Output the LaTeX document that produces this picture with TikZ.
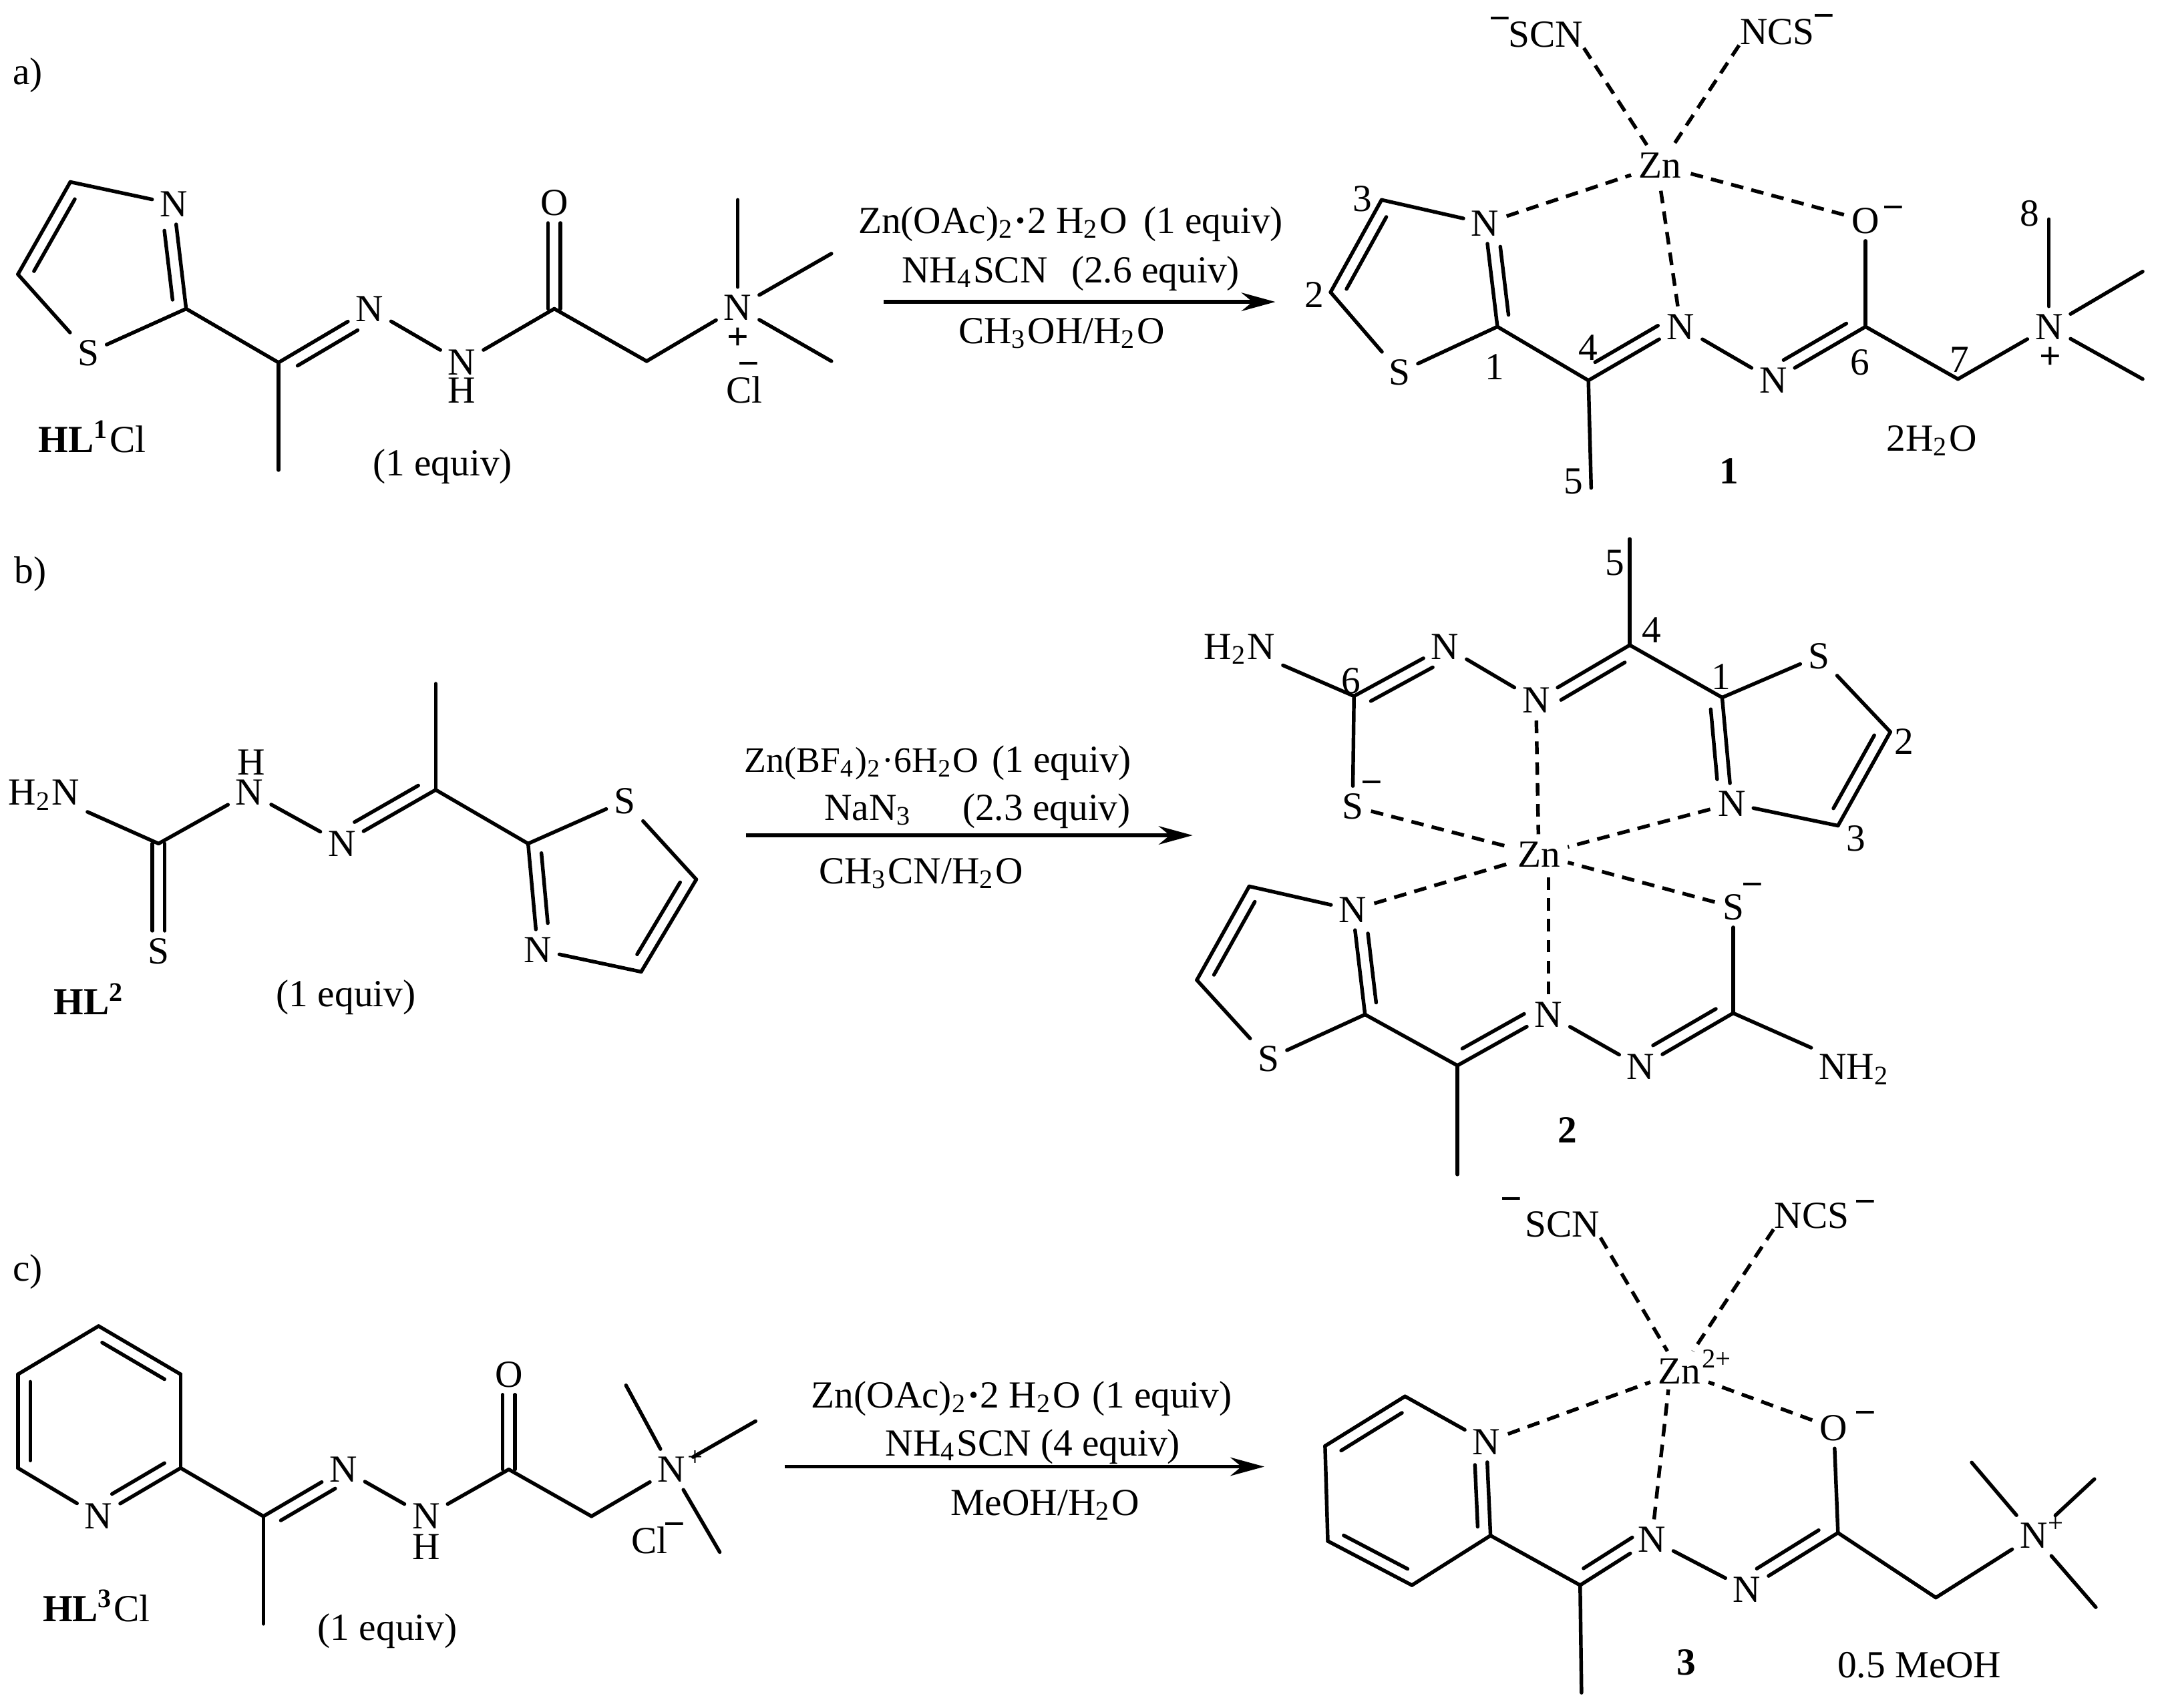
\documentclass[tikz,border=0pt]{standalone}
\usepackage{fontspec}
\setmainfont{Liberation Serif}
\usetikzlibrary{calc,arrows.meta}

% inner line of a double bond: from, to, side, start, stop
\newcommand{\inbond}[5]{\draw[bond] ($(#1)!#4!(#2)!0.09cm!#3:(#2)$) -- ($(#1)!#5!(#2)!0.09cm!#3:(#2)$);}
% upright double bond, two lines side by side
\newcommand{\updbl}[2]{
  \draw[bond,transform canvas={xshift=-0.045cm}] (#1) -- (#2);
  \draw[bond,transform canvas={xshift=0.045cm}] (#1) -- (#2);
}

\begin{document}
\begin{tikzpicture}[
  x=0.01cm, y=-0.01cm,
  txt/.style={font=\fontsize{7.9}{9}\selectfont, inner sep=0pt, text height=5.2pt, text depth=0pt},
  atom/.style={txt, inner sep=1.4pt},
  chg/.style={font=\fontsize{7.9}{9}\selectfont\bfseries, inner sep=0pt, text height=4.4pt, text depth=0pt},
  sup/.style={font=\fontsize{5.6}{6}\selectfont, inner sep=0pt},
  bond/.style={line width=0.75pt, line cap=round},
  coord/.style={bond, dash pattern=on 2.6pt off 1.7pt, line cap=butt},
  arr/.style={-{Stealth[length=7pt,width=3.8pt]}, line width=0.8pt}
]
  \useasboundingbox (0,0) rectangle (1568,1239);

  % ---- a) ligand
  \node[txt] (atag) at (20,52) {a)};
  \node[atom] (aN1) at (126,148) {N};
  \node[atom] (aS) at (64,256) {S};
  \node[atom] (aN2) at (268,224) {N};
  \node[atom] (aN3) at (335,263) {N};
  \node[txt] (aH) at (335,283) {H};
  \node[atom] (aO) at (402,147) {O};
  \node[atom] (aN4) at (535,223) {N};
  \node[chg] (aplus) at (535,246) {+};
  \node[chg] (aminus) at (543,265) {−};
  \node[txt] (aCl) at (540,283) {Cl};
  \node[txt] (aname) at (67,319) {\textbf{HL\textsuperscript{1}}Cl};
  \node[txt] (aeq) at (321,336) {(1 equiv)};
  \coordinate (aC3) at (51,132);
  \coordinate (aC2) at (13,199);
  \coordinate (aC1) at (135,224);
  \coordinate (aC4) at (202,263);
  \coordinate (aC5) at (202,341);
  \coordinate (aC6) at (402,224);
  \coordinate (aC7) at (469,262);
  \coordinate (aC8) at (535,145);
  \coordinate (aC9) at (603,184);
  \coordinate (aC10) at (603,262);
  \foreach \p/\q in {aC3/aN1, aC3/aC2, aC2/aS, aS/aC1, aC1/aN1, aC1/aC4, aC4/aN2, aC4/aC5,
    aN2/aN3, aN3/aC6, aC6/aC7, aC7/aN4, aN4/aC8, aN4/aC9, aN4/aC10}
    \draw[bond] (\p) -- (\q);
  \inbond{aC3}{aC2}{90}{0.12}{0.9}
  \inbond{aC1}{aN1}{90}{0.1}{0.76}
  \inbond{aC4}{aN2}{-90}{0.14}{0.8}
  \updbl{aC6}{aO}

  % ---- a) reagents
  \node[txt] (ar1) at (720,160) {Zn(OAc)\textsubscript{2}\textbf{·}2 H\textsubscript{2}O};
  \node[txt] (ar1b) at (880,160) {(1 equiv)};
  \node[txt] (ar2) at (707,196) {NH\textsubscript{4}SCN};
  \node[txt] (ar2b) at (838,196) {(2.6 equiv)};
  \node[txt] (ar3) at (770,240) {CH\textsubscript{3}OH/H\textsubscript{2}O};
  \coordinate (aL) at (641,219);
  \coordinate (aR) at (925,219);
  \draw[arr] (aL) -- (aR);

  % ---- complex 1
  \node[txt] (Ascn) at (1121,25) {SCN};
  \node[chg] (Ascnm) at (1088,15) {−};
  \node[txt] (Ancs) at (1289,23) {NCS};
  \node[chg] (Ancsm) at (1323,13) {−};
  \node[atom] (AZn) at (1204,120) {Zn};
  \node[atom] (AN1) at (1077,162) {N};
  \node[atom] (AS) at (1015,270) {S};
  \node[atom] (AN2) at (1219,237) {N};
  \node[atom] (AN3) at (1286,276) {N};
  \node[atom] (AO) at (1353,160) {O};
  \node[chg] (AOm) at (1373,152) {−};
  \node[atom] (AN4) at (1486,237) {N};
  \node[chg] (Aplus) at (1487,260) {+};
  \node[txt] (Awat) at (1401,318) {2H\textsubscript{2}O};
  \node[txt] (Aname) at (1254,342) {\textbf{1}};
  \node[txt] (Ana) at (1084,266) {1};
  \node[txt] (Anb) at (953,214) {2};
  \node[txt] (Anc) at (988,144) {3};
  \node[txt] (And) at (1152,252) {4};
  \node[txt] (Ane) at (1141,349) {5};
  \node[txt] (Anf) at (1349,263) {6};
  \node[txt] (Ang) at (1421,261) {7};
  \node[txt] (Anh) at (1472,155) {8};
  \coordinate (AC3) at (1002,145);
  \coordinate (AC2) at (965,212);
  \coordinate (AC1) at (1086,237);
  \coordinate (AC4) at (1152,276);
  \coordinate (AC5) at (1154,354);
  \coordinate (AC6) at (1353,237);
  \coordinate (AC7) at (1420,275);
  \coordinate (AC8) at (1486,159);
  \coordinate (AC9) at (1554,197);
  \coordinate (AC10) at (1554,275);
  \foreach \p/\q in {AC3/AN1, AC3/AC2, AC2/AS, AS/AC1, AC1/AN1, AC1/AC4, AC4/AN2, AC4/AC5,
    AN2/AN3, AN3/AC6, AC6/AO, AC6/AC7, AC7/AN4, AN4/AC8, AN4/AC9, AN4/AC10}
    \draw[bond] (\p) -- (\q);
  \inbond{AC3}{AC2}{90}{0.12}{0.9}
  \inbond{AC1}{AN1}{-90}{0.1}{0.76}
  \inbond{AC4}{AN2}{90}{0.14}{0.82}
  \inbond{AC6}{AN3}{-90}{0.14}{0.82}
  \foreach \p in {Ascn.south east, Ancs.south west, AN1, AO}
    \draw[coord] (\p) -- (AZn);
  \draw[coord] (AN2) -- (AZn.south);

  % ---- b) ligand
  \node[txt] (btag) at (22,414) {b)};
  \node[atom] (bNH) at (32,575) {H\textsubscript{2}N};
  \node[atom] (bN2) at (181,575) {N};
  \node[txt] (bH) at (182,553) {H};
  \node[atom] (bN3) at (248,612) {N};
  \node[atom] (bS1) at (115,690) {S};
  \node[atom] (bS2) at (453,581) {S};
  \node[atom] (bN1) at (390,689) {N};
  \node[txt] (bname) at (65,727) {\textbf{HL\textsuperscript{2}}};
  \node[txt] (beq) at (251,721) {(1 equiv)};
  \coordinate (bC6) at (115,612);
  \coordinate (bC4) at (316,573);
  \coordinate (bC5) at (316,496);
  \coordinate (bC1) at (383,612);
  \coordinate (bC2) at (505,638);
  \coordinate (bC3) at (465,705);
  \foreach \p/\q in {bNH/bC6, bC6/bN2, bN2/bN3, bN3/bC4, bC4/bC5, bC4/bC1, bC1/bS2, bS2/bC2,
    bC2/bC3, bC3/bN1, bN1/bC1}
    \draw[bond] (\p) -- (\q);
  \updbl{bC6}{bS1}
  \inbond{bC4}{bN3}{-90}{0.12}{0.8}
  \inbond{bC1}{bN1}{90}{0.1}{0.76}
  \inbond{bC2}{bC3}{-90}{0.1}{0.88}

  % ---- b) reagents
  \node[txt, font=\fontsize{7.4}{9}\selectfont] (br1) at (625,551) {Zn(BF\textsubscript{4})\textsubscript{2}·6H\textsubscript{2}O};
  \node[txt] (br1b) at (770,551) {(1 equiv)};
  \node[txt] (br2) at (630,586) {NaN\textsubscript{3}};
  \node[txt] (br3) at (759,586) {(2.3 equiv)};
  \node[txt] (br4) at (668,632) {CH\textsubscript{3}CN/H\textsubscript{2}O};
  \coordinate (bL) at (541,606);
  \coordinate (bR) at (865,606);
  \draw[arr] (bL) -- (bR);

  % ---- complex 2
  \node[atom] (BNH1) at (899,469) {H\textsubscript{2}N};
  \node[atom] (BN2) at (1048,469) {N};
  \node[atom] (BN3) at (1114,508) {N};
  \node[atom] (BS1) at (981,585) {S};
  \node[chg] (BS1m) at (995,569) {−};
  \node[atom] (BS2) at (1319,476) {S};
  \node[atom] (BN1) at (1256,583) {N};
  \node[atom] (BZn) at (1116,620) {Zn};
  \node[atom] (BN4) at (981,660) {N};
  \node[atom] (BS3) at (920,768) {S};
  \node[atom] (BN5) at (1123,736) {N};
  \node[atom] (BN6) at (1190,774) {N};
  \node[atom] (BNH2) at (1345,774) {NH\textsubscript{2}};
  \node[atom] (BS4) at (1257,658) {S};
  \node[chg] (BS4m) at (1271,643) {−};
  \node[txt] (Bname) at (1137,820) {\textbf{2}};
  \node[txt] (Bna) at (1248,491) {1};
  \node[txt] (Bnb) at (1381,538) {2};
  \node[txt] (Bnc) at (1346,608) {3};
  \node[txt] (Bnd) at (1198,457) {4};
  \node[txt] (Bne) at (1171,408) {5};
  \node[txt] (Bnf) at (980,494) {6};
  \coordinate (BC6) at (982,505);
  \coordinate (BC4) at (1182,468);
  \coordinate (BC5) at (1182,391);
  \coordinate (BC1) at (1249,506);
  \coordinate (BC2) at (1371,531);
  \coordinate (BC3) at (1333,599);
  \coordinate (BC7) at (906,643);
  \coordinate (BC8) at (868,711);
  \coordinate (BC9) at (990,736);
  \coordinate (BC10) at (1057,773);
  \coordinate (BC11) at (1057,852);
  \coordinate (BC12) at (1257,735);
  \foreach \p/\q in {BNH1/BC6, BC6/BN2, BN2/BN3, BN3/BC4, BC4/BC5, BC4/BC1, BC1/BS2, BS2/BC2,
    BC2/BC3, BC3/BN1, BN1/BC1, BC6/BS1, BC7/BN4, BC7/BC8, BC8/BS3, BS3/BC9, BC9/BN4, BC9/BC10,
    BC10/BC11, BC10/BN5, BN5/BN6, BN6/BC12, BC12/BS4, BC12/BNH2}
    \draw[bond] (\p) -- (\q);
  \inbond{BC6}{BN2}{-90}{0.12}{0.8}
  \inbond{BC4}{BN3}{90}{0.12}{0.8}
  \inbond{BC1}{BN1}{-90}{0.1}{0.76}
  \inbond{BC2}{BC3}{-90}{0.1}{0.88}
  \inbond{BC7}{BC8}{90}{0.1}{0.88}
  \inbond{BC9}{BN4}{-90}{0.1}{0.76}
  \inbond{BC10}{BN5}{90}{0.12}{0.8}
  \inbond{BC12}{BN6}{-90}{0.12}{0.8}
  \foreach \p in {BN3, BS1, BN1, BN4, BS4}
    \draw[coord] (\p) -- (BZn);
  \draw[coord] (BN5) -- (BZn.south -| BN5);

  % ---- c) ligand
  \node[txt] (ctag) at (20,920) {c)};
  \node[atom] (cN1) at (71.5,1100) {N};
  \node[atom] (cN2) at (249,1066) {N};
  \node[atom] (cN3) at (309,1100) {N};
  \node[txt] (cH) at (309,1122) {H};
  \node[atom] (cO) at (369,997) {O};
  \node[atom] (cN4) at (487,1066) {N};
  \node[sup] (cplus) at (504,1058) {+};
  \node[txt] (cCl) at (471,1118) {Cl};
  \node[chg] (cminus) at (489,1107) {−};
  \node[txt] (cname) at (70,1167) {\textbf{HL\textsuperscript{3}}Cl};
  \node[txt] (ceq) at (281,1181) {(1 equiv)};
  \coordinate (cR1) at (71.5,962);
  \coordinate (cR2) at (131,997);
  \coordinate (cR3) at (131,1065);
  \coordinate (cR4) at (13,1065);
  \coordinate (cR5) at (13,997);
  \coordinate (cC4) at (191,1100);
  \coordinate (cC5) at (191,1178);
  \coordinate (cC6) at (369,1066);
  \coordinate (cC7) at (429,1100);
  \coordinate (cC8) at (454,1005);
  \coordinate (cC9) at (548,1031);
  \coordinate (cC10) at (522,1126);
  \foreach \p/\q in {cR1/cR2, cR2/cR3, cR3/cN1, cN1/cR4, cR4/cR5, cR5/cR1, cR3/cC4, cC4/cC5,
    cC4/cN2, cN2/cN3, cN3/cC6, cC6/cC7, cC7/cN4, cN4/cC8, cN4/cC9, cN4/cC10}
    \draw[bond] (\p) -- (\q);
  \inbond{cR1}{cR2}{-90}{0.12}{0.88}
  \inbond{cR5}{cR4}{90}{0.08}{0.92}
  \inbond{cR3}{cN1}{-90}{0.12}{0.76}
  \inbond{cC4}{cN2}{-90}{0.14}{0.82}
  \updbl{cC6}{cO}

  % ---- c) reagents
  \node[txt] (cr1) at (686,1012) {Zn(OAc)\textsubscript{2}\textbf{·}2 H\textsubscript{2}O};
  \node[txt] (cr1b) at (843,1012) {(1 equiv)};
  \node[txt] (cr2) at (749,1047) {NH\textsubscript{4}SCN (4 equiv)};
  \node[txt] (cr3) at (758,1090) {MeOH/H\textsubscript{2}O};
  \coordinate (cL) at (569,1064);
  \coordinate (cR) at (917,1064);
  \draw[arr] (cL) -- (cR);

  % ---- complex 3
  \node[txt] (Cscn) at (1133,888) {SCN};
  \node[chg] (Cscnm) at (1096,871) {−};
  \node[txt] (Cncs) at (1314,882) {NCS};
  \node[chg] (Cncsm) at (1353,873) {−};
  \node[atom] (CZn) at (1218,995) {Zn};
  \node[sup] (CZnc) at (1245,986) {2+};
  \node[atom] (CN1) at (1078,1046) {N};
  \node[atom] (CN2) at (1198,1117) {N};
  \node[atom] (CN3) at (1267,1153) {N};
  \node[atom] (CO) at (1330,1036) {O};
  \node[chg] (COm) at (1353,1026) {−};
  \node[atom] (CN4) at (1475,1114) {N};
  \node[sup] (Cplus) at (1491,1106) {+};
  \node[txt] (Cname) at (1223,1206) {\textbf{3}};
  \node[txt] (Csolv) at (1392,1208) {0.5 MeOH};
  \coordinate (CZnb) at (1210,1008);
  \coordinate (CR1) at (1019,1013);
  \coordinate (CR2) at (961,1049);
  \coordinate (CR3) at (963,1118);
  \coordinate (CR4) at (1024,1150);
  \coordinate (CR5) at (1081,1114);
  \coordinate (CC4) at (1146,1150);
  \coordinate (CC5) at (1147,1228);
  \coordinate (CC6) at (1333,1112);
  \coordinate (CC7) at (1404,1159);
  \coordinate (CC8) at (1430,1061);
  \coordinate (CC9) at (1519,1073);
  \coordinate (CC10) at (1520,1166);
  \foreach \p/\q in {CR1/CN1, CR1/CR2, CR2/CR3, CR3/CR4, CR4/CR5, CR5/CN1, CR5/CC4, CC4/CC5,
    CC4/CN2, CN2/CN3, CN3/CC6, CC6/CO, CC6/CC7, CC7/CN4, CN4/CC8, CN4/CC9, CN4/CC10}
    \draw[bond] (\p) -- (\q);
  \inbond{CR1}{CR2}{90}{0.12}{0.88}
  \inbond{CR3}{CR4}{90}{0.12}{0.88}
  \inbond{CR5}{CN1}{90}{0.1}{0.76}
  \inbond{CC4}{CN2}{90}{0.14}{0.82}
  \inbond{CC6}{CN3}{-90}{0.14}{0.82}
  \foreach \p in {Cscn.south east, Cncs.south west, CN1, CO}
    \draw[coord] (\p) -- (CZn);
  \draw[coord] (CN2) -- (CZnb);
\end{tikzpicture}
\end{document}
